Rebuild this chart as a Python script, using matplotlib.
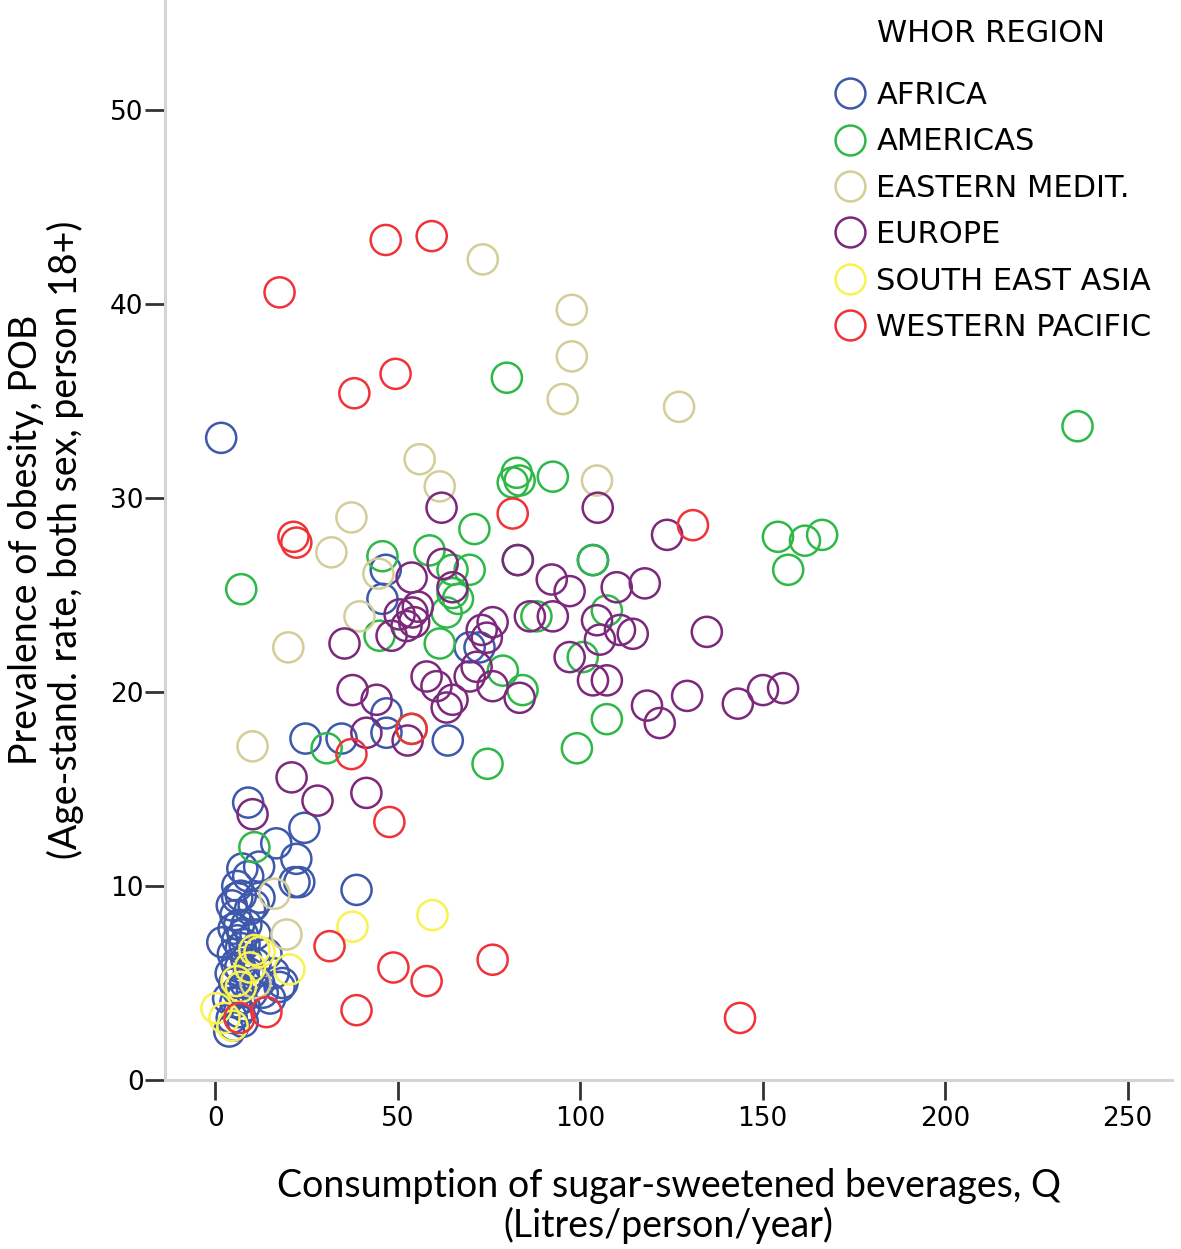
import matplotlib
matplotlib.use("Agg")
import matplotlib.pyplot as plt
from matplotlib.lines import Line2D

# WHO regions and colours (SPSS default palette)
regions = ['AFRICA', 'AMERICAS', 'EASTERN MEDIT.', 'EUROPE', 'SOUTH EAST ASIA', 'WESTERN PACIFIC']
colors = ['#3E58AC', '#2EB848', '#D3CE97', '#7C287D', '#F8F34E', '#EF3338']

# Africa
africa_x = [1.6, 46.7, 45.8, 24.7, 34.6, 46.9, 46.9, 63.7, 69.7, 72.4, 103.5, 38.7,
            9.0, 24.4, 16.7, 22.2, 21.7, 7.4, 6.0, 12.1, 17.6, 18.4, 3.8, 1.9,
            4.5, 5.5, 6.5, 7.5, 5.0, 6.0, 7.0, 8.0, 4.8, 5.8, 6.8, 8.5, 9.5, 10.5,
            4.2, 5.2, 6.2, 7.2, 8.2, 9.2, 5.5, 6.5, 4.5, 7.5, 10.0, 12.0, 13.0, 11.0,
            14.0, 8.5, 6.0, 9.0, 12.0, 11.0, 7.0, 3.5, 16.0, 15.0, 23.0, 5.0, 8.0]
africa_y = [33.1, 26.3, 24.8, 17.6, 17.6, 18.9, 17.9, 17.5, 22.3, 22.3, 26.8, 9.8,
            14.3, 13.0, 12.2, 11.4, 10.2, 10.9, 9.4, 9.4, 4.8, 5.0, 2.5, 7.1,
            9.0, 8.5, 8.0, 7.5, 7.8, 7.2, 6.8, 7.0, 6.5, 6.0, 5.8, 6.2, 8.8, 9.0,
            5.5, 5.0, 4.6, 4.2, 5.0, 5.5, 4.0, 3.5, 3.2, 3.0, 4.5, 5.0, 4.5, 6.0,
            6.5, 8.0, 10.0, 10.5, 11.0, 7.5, 9.5, 4.2, 5.5, 4.2, 10.2, 2.8, 3.8]

# Americas
americas_x = [236.3, 79.9, 7.1, 45.8, 58.7, 71.0, 82.6, 83.4, 81.5, 92.5, 82.9, 103.5,
              69.7, 65.0, 65.0, 63.4, 61.5, 45.0, 88.0, 107.3, 100.7, 78.8, 84.2, 107.3,
              99.1, 74.6, 30.5, 53.8, 10.7, 154.2, 161.6, 166.3, 157.0, 66.5]
americas_y = [33.7, 36.2, 25.3, 27.0, 27.3, 28.4, 31.3, 30.9, 30.8, 31.1, 26.8, 26.8,
              26.3, 26.3, 25.1, 24.1, 22.5, 22.9, 23.9, 24.2, 21.8, 21.1, 20.1, 18.6,
              17.1, 16.3, 17.1, 18.1, 12.0, 28.0, 27.8, 28.1, 26.3, 24.8]

# Eastern Mediterranean
emed_x = [73.3, 97.7, 97.7, 95.2, 127.1, 56.0, 61.5, 104.6, 37.3, 31.8, 44.7, 39.5,
          20.0, 10.2, 16.2, 19.5, 11.0]
emed_y = [42.3, 39.7, 37.3, 35.1, 34.7, 32.0, 30.6, 30.9, 29.0, 27.2, 26.1, 23.9,
          22.3, 17.2, 9.6, 7.5, 5.0]

# Europe
europe_x = [62.0, 104.8, 123.8, 82.9, 53.8, 62.3, 65.0, 54.0, 52.4, 55.5, 54.5, 76.0,
            74.4, 35.4, 48.3, 73.0, 92.2, 97.1, 110.0, 117.7, 86.2, 92.5, 104.6, 110.9,
            114.4, 105.4, 134.7, 97.1, 103.5, 107.3, 118.3, 121.8, 129.3, 143.2, 150.1,
            155.6, 37.6, 44.2, 41.4, 52.7, 57.9, 60.6, 65.0, 69.7, 76.0, 83.4, 63.4,
            71.6, 20.9, 28.0, 41.4, 10.2, 50.5]
europe_y = [29.5, 29.5, 28.1, 26.8, 25.9, 26.6, 25.4, 24.1, 23.4, 24.4, 23.6, 23.6,
            22.8, 22.5, 22.9, 23.2, 25.8, 25.2, 25.4, 25.6, 23.9, 23.9, 23.7, 23.2,
            23.0, 22.7, 23.1, 21.8, 20.6, 20.6, 19.3, 18.4, 19.8, 19.4, 20.1,
            20.2, 20.1, 19.6, 17.9, 17.5, 20.8, 20.3, 19.6, 20.8, 20.3, 19.7, 19.2,
            21.3, 15.6, 14.4, 14.8, 13.7, 24.0]

# South East Asia
sea_x = [59.5, 37.6, 12.1, 10.7, 20.3, 5.8, 0.3, 2.5, 4.7, 9.5, 7.0]
sea_y = [8.5, 7.9, 6.6, 6.7, 5.7, 5.1, 3.7, 3.2, 2.8, 5.8, 4.8]

# Western Pacific
wpac_x = [17.6, 46.7, 59.3, 38.1, 49.4, 81.5, 130.9, 21.4, 22.2, 37.3, 53.8, 47.7,
          31.3, 48.8, 57.9, 76.0, 38.7, 143.8, 14.0, 6.6]
wpac_y = [40.6, 43.3, 43.5, 35.4, 36.4, 29.2, 28.6, 28.0, 27.7, 16.8, 18.1, 13.3,
          6.9, 5.8, 5.1, 6.2, 3.6, 3.2, 3.5, 3.2]

series = [(africa_x, africa_y), (americas_x, americas_y), (emed_x, emed_y),
          (europe_x, europe_y), (sea_x, sea_y), (wpac_x, wpac_y)]

fig = plt.figure(figsize=(11.81, 12.49), dpi=100)
ax = fig.add_axes([0.1397, 0.1353, 0.8527, 0.8647])

for (xs, ys), col, name in zip(series, colors, regions):
    ax.scatter(xs, ys, s=470, facecolors='none', edgecolors=col, linewidths=1.8, label=name)

ax.set_xlim(-13.8, 262.2)
ax.set_ylim(0, 55.67)
ax.set_xticks([0, 50, 100, 150, 200, 250])
ax.set_yticks([0, 10, 20, 30, 40, 50])

for s in ['top', 'right']:
    ax.spines[s].set_visible(False)
for s in ['left', 'bottom']:
    ax.spines[s].set_color('#d4d4d4')
    ax.spines[s].set_linewidth(2.2)

ax.tick_params(axis='both', length=14.4, width=2.0, color='#333333', labelsize=19)
ax.tick_params(axis='y', pad=1)
ax.tick_params(axis='x', pad=4)

lab_font = ['Lato', 'DejaVu Sans']
ax.set_xlabel('Consumption of sugar-sweetened beverages, Q\n(Litres/person/year)',
              fontsize=27, family=lab_font, labelpad=26, linespacing=1.1)
ax.set_ylabel('Prevalence of obesity, POB\n(Age-stand. rate, both sex, person 18+)',
              fontsize=27, family=lab_font, labelpad=19, linespacing=1.1)

handles = [Line2D([], [], marker='o', linestyle='none', markersize=21.5,
                  markerfacecolor='none', markeredgecolor=c, markeredgewidth=1.8)
           for c in colors]
leg = ax.legend(handles, regions, title='WHOR REGION', loc='upper right',
                bbox_to_anchor=(0.995, 0.997), frameon=False, fontsize=22,
                title_fontsize=22, handletextpad=0.2, labelspacing=0.57,
                borderpad=0.0, handlelength=1.3)
# extra gap between legend title and its entries
leg._legend_box.sep = 24

fig.savefig('out.png', dpi=100)
